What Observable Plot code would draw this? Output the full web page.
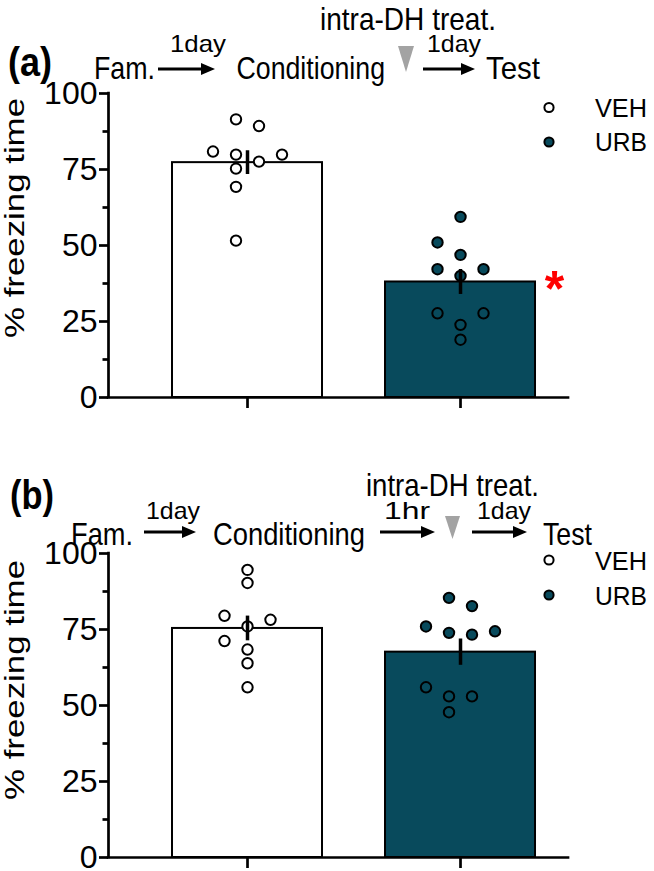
<!DOCTYPE html>
<html>
<head>
<meta charset="utf-8">
<script src="https://cdn.jsdelivr.net/npm/d3@7"></script>
<script src="https://cdn.jsdelivr.net/npm/@observablehq/plot@0.6"></script>
<style>
html, body { margin: 0; padding: 0; background: #fff; }
#page { position: relative; width: 654px; height: 871px; overflow: hidden; font-family: "Liberation Sans", Arial, sans-serif; }
.panel { position: absolute; left: 0; }
#overlay { position: absolute; left: 0; top: 0; pointer-events: none; font-family: "Liberation Sans", Arial, sans-serif; }
</style>
</head>
<body>
<div id="page">
  <div id="pa" class="panel" style="top:70px"></div>
  <div id="pb" class="panel" style="top:520px"></div>
  <svg id="overlay" width="654" height="871" viewBox="0 0 654 871">
    <defs>
      <g id="arrowhead"><polygon points="0,0 -14,-6 -14,6" fill="#000"/></g>
    </defs>
    <!-- panel (a) header -->
    <text x="8" y="76" font-size="40" font-weight="bold" textLength="44" lengthAdjust="spacingAndGlyphs">(a)</text>
    <text x="94" y="79" font-size="32" textLength="61" lengthAdjust="spacingAndGlyphs">Fam.</text>
    <line x1="158" y1="69" x2="203" y2="69" stroke="#000" stroke-width="3"/>
    <use href="#arrowhead" x="215" y="69"/>
    <text x="170" y="52" font-size="24" textLength="56" lengthAdjust="spacingAndGlyphs">1day</text>
    <text x="236.5" y="79" font-size="32" textLength="148.5" lengthAdjust="spacingAndGlyphs">Conditioning</text>
    <polygon points="398,46 414,46 406,72" fill="#a3a3a3"/>
    <text x="320" y="30" font-size="32" textLength="176" lengthAdjust="spacingAndGlyphs">intra-DH treat.</text>
    <line x1="423" y1="69" x2="463" y2="69" stroke="#000" stroke-width="3"/>
    <use href="#arrowhead" x="475" y="69"/>
    <text x="427" y="52" font-size="24" textLength="54" lengthAdjust="spacingAndGlyphs">1day</text>
    <text x="486" y="79" font-size="32" textLength="54" lengthAdjust="spacingAndGlyphs">Test</text>
    <!-- panel (b) header -->
    <text x="10" y="509" font-size="40" font-weight="bold" textLength="44" lengthAdjust="spacingAndGlyphs">(b)</text>
    <text x="71" y="545" font-size="32" textLength="62" lengthAdjust="spacingAndGlyphs">Fam.</text>
    <line x1="144" y1="532" x2="184" y2="532" stroke="#000" stroke-width="3"/>
    <use href="#arrowhead" x="196" y="532"/>
    <text x="146" y="519" font-size="24" textLength="54" lengthAdjust="spacingAndGlyphs">1day</text>
    <text x="213" y="545" font-size="32" textLength="152" lengthAdjust="spacingAndGlyphs">Conditioning</text>
    <line x1="380" y1="532" x2="423" y2="532" stroke="#000" stroke-width="3"/>
    <use href="#arrowhead" x="435" y="532"/>
    <text x="384" y="519" font-size="24" textLength="46" lengthAdjust="spacingAndGlyphs">1hr</text>
    <polygon points="445,516 460,516 452.5,539" fill="#a3a3a3"/>
    <text x="366" y="496" font-size="32" textLength="173" lengthAdjust="spacingAndGlyphs">intra-DH treat.</text>
    <line x1="472" y1="532" x2="515" y2="532" stroke="#000" stroke-width="3"/>
    <use href="#arrowhead" x="527" y="532"/>
    <text x="477" y="519" font-size="24" textLength="54" lengthAdjust="spacingAndGlyphs">1day</text>
    <text x="543" y="545" font-size="32" textLength="49" lengthAdjust="spacingAndGlyphs">Test</text>
    <g id="legends"></g>
  </svg>
</div>
<script>
// ---- data ----
const groups = ["VEH", "URB"];
const groupColors = ["#ffffff", "#084a5c"];
const yTicks = [0, 25, 50, 75, 100];
const yMinorTicks = [12.5, 37.5, 62.5, 87.5];
const yLabel = "% freezing time";
// panel (a): % freezing time per animal
const vehA = [91.5, 89.3, 80.9, 79.9, 79.9, 77.6, 75.3, 69.3, 51.6];
const urbA = [59.4, 51.0, 46.9, 42.2, 42.2, 40.0, 27.7, 27.7, 23.9, 19.0];
// panel (b)
const vehB = [94.6, 90.3, 79.5, 78.2, 76.0, 71.2, 68.4, 63.9, 56.0];
const urbB = [85.4, 82.7, 76.0, 74.4, 73.9, 73.3, 56.0, 53.0, 53.0, 47.8];

// ---- layout constants ----
const W = 654, ML = 108, MR = 86;
const X_DOMAIN = [-0.6526, 1.507];
const pxPerX = (W - ML - MR) / (X_DOMAIN[1] - X_DOMAIN[0]);
const halfBar = 75 / pxPerX;
const colStep = 23 / pxPerX;
const ROW_GAP = 4.2; // values closer than this share a row in the scatter
const ns = "http://www.w3.org/2000/svg";

// GraphPad-like column scatter
function swarm(values) {
  const sorted = values.map(v => ({value: v})).sort((a, b) => b.value - a.value);
  const rows = [];
  for (const p of sorted) {
    const r = rows[rows.length - 1];
    if (r && r[0].value - p.value < ROW_GAP) r.push(p); else rows.push([p]);
  }
  const maxK = d3.max(rows, r => r.length);
  const out = [];
  for (const r of rows) {
    const k = r.length;
    const shift = (k % 2) === (maxK % 2) ? (k - 1) / 2 : k / 2;
    const slots = d3.range(k).map(j => j - shift);
    const order = [];
    let lo = 0, hi = k - 1;
    while (lo <= hi) { order.push(slots[lo++]); if (lo <= hi) order.push(slots[hi--]); }
    r.forEach((p, j) => out.push({value: p.value, col: order[j]}));
  }
  return out;
}

function panel(vals, opts) {
  const summary = vals.map((v, i) => ({
    i, group: groups[i], fill: groupColors[i],
    mean: d3.mean(v), sem: d3.deviation(v) / Math.sqrt(v.length)
  }));
  const pts = vals.flatMap((v, i) => swarm(v).map(p => ({...p, i, fill: groupColors[i]})));
  const marks = [
    Plot.rect(summary, {x1: d => d.i - halfBar, x2: d => d.i + halfBar, y1: 0, y2: "mean",
      fill: "fill", stroke: "black", strokeWidth: 2}),
    Plot.dot(pts, {x: d => d.i + d.col * colStep, y: "value", r: 5.2, fill: "fill",
      stroke: "black", strokeWidth: 2}),
    Plot.ruleX(summary, {x: "i", y1: d => d.mean - d.sem, y2: d => d.mean + d.sem,
      stroke: "black", strokeWidth: 3.5}),
    Plot.ruleY([0], {stroke: "black", strokeWidth: 2.7, strokeLinecap: "square"}),
    Plot.ruleX([X_DOMAIN[0]], {y1: 0, y2: 100, stroke: "black", strokeWidth: 2.7, strokeLinecap: "square"}),
    Plot.axisY(yTicks, {tickSize: 9, tickPadding: 2, fontSize: 32, strokeWidth: 2.7, label: null}),
    Plot.axisY(yMinorTicks, {tickSize: 5.5, tickFormat: () => "", strokeWidth: 2.7, label: null}),
    Plot.axisX([0, 1], {tickSize: 11, tickFormat: () => "", strokeWidth: 2.7, label: null})
  ];
  if (opts.star) {
    marks.push(Plot.text([summary[1]], {x: d => d.i + halfBar, y: "mean", text: () => "*",
      dx: 19, dy: 8, fill: "#ff0000", fontSize: 50, fontWeight: "bold"}));
  }
  const svg = Plot.plot({
    width: W, height: opts.height,
    marginLeft: ML, marginRight: MR, marginTop: opts.marginTop, marginBottom: opts.marginBottom,
    x: {domain: X_DOMAIN},
    y: {domain: [0, 100]},
    style: {fontFamily: "Liberation Sans, Arial, sans-serif", overflow: "visible", background: "transparent", color: "black"},
    marks
  });
  // y-axis title
  const lab = document.createElementNS(ns, "text");
  lab.textContent = yLabel;
  lab.setAttribute("transform", `translate(15,${opts.labelY}) rotate(-90)`);
  lab.setAttribute("dy", "0.35em");
  lab.setAttribute("text-anchor", "middle");
  lab.setAttribute("font-size", "27");
  lab.setAttribute("textLength", "240");
  lab.setAttribute("lengthAdjust", "spacingAndGlyphs");
  lab.setAttribute("fill", "black");
  lab.setAttribute("aria-label", "y-axis label");
  svg.appendChild(lab);
  return svg;
}

document.getElementById("pa").appendChild(panel([vehA, urbA], {height: 350, marginTop: 23, marginBottom: 23, star: true, labelY: 148}));
document.getElementById("pb").appendChild(panel([vehB, urbB], {height: 351, marginTop: 33, marginBottom: 14, star: false, labelY: 160}));

// legends
const legG = document.getElementById("legends");
const legendRows = [[107.5, 142], [560, 595]];
const legendText = [[117, 150.5], [570, 605]];
legendRows.forEach((ys, p) => {
  groups.forEach((g, i) => {
    const c = document.createElementNS(ns, "circle");
    c.setAttribute("cx", 549); c.setAttribute("cy", ys[i]); c.setAttribute("r", 4.6);
    c.setAttribute("fill", groupColors[i]); c.setAttribute("stroke", "#000"); c.setAttribute("stroke-width", 2);
    legG.appendChild(c);
    const t = document.createElementNS(ns, "text");
    t.setAttribute("x", 595); t.setAttribute("y", legendText[p][i]); t.setAttribute("font-size", 26);
    t.setAttribute("textLength", 52); t.setAttribute("lengthAdjust", "spacingAndGlyphs");
    t.textContent = g;
    legG.appendChild(t);
  });
});
</script>
</body>
</html>
